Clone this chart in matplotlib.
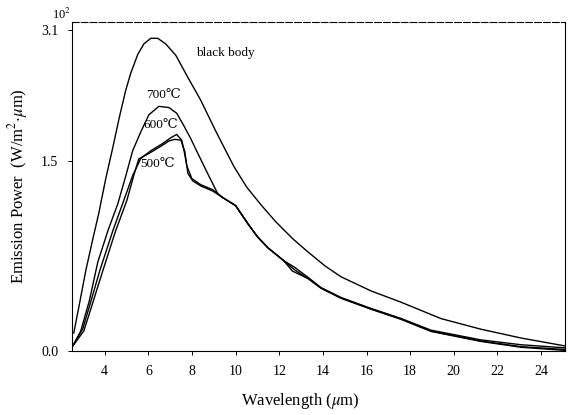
import numpy as np
import matplotlib
matplotlib.use('Agg')
import matplotlib.pyplot as plt
from matplotlib.scale import FuncScale

plt.rcParams['font.family'] = ['Liberation Serif', 'DejaVu Serif']
plt.rcParams['mathtext.fontset'] = 'stix'

# values (wavelength in um, power in units of 10^2 W/m^2.um)
wl_bb = [2.58, 2.85, 3.13, 3.45, 3.72, 4.05, 4.37, 4.66, 4.96, 5.19, 5.51, 5.79, 6.11,
         6.43, 6.80, 7.26, 7.81, 8.40, 9.09, 9.92, 10.51, 11.16, 11.84, 12.62, 13.36,
         14.1, 14.83, 16.2, 17.58, 19.41, 21.25, 23.08, 25.15]
pw_bb = [0.142, 0.38, 0.632, 0.88, 1.08, 1.36, 1.66, 2.02, 2.36, 2.57, 2.80, 2.93, 3.00,
         3.00, 2.93, 2.79, 2.52, 2.24, 1.86, 1.453, 1.29, 1.152, 1.018, 0.884, 0.774,
         0.67, 0.585, 0.474, 0.385, 0.256, 0.172, 0.103, 0.039]

wl_700 = [2.53, 2.90, 3.30, 3.68, 4.15, 4.6, 4.95, 5.28, 5.65, 6.02, 6.48, 6.94, 7.30,
          7.62, 7.94, 8.27, 8.72, 9.18, 9.41, 10.0, 10.56, 11.0, 11.48, 12.21, 12.7,
          13.36, 13.91, 14.83, 16.2, 17.58, 18.95, 21.25, 23.08, 25.15]
pw_700 = [0.039, 0.158, 0.40, 0.70, 0.95, 1.16, 1.37, 1.62, 1.85, 2.06, 2.165, 2.15, 2.08,
          1.93, 1.77, 1.586, 1.397, 1.239, 1.208, 1.145, 1.003, 0.90, 0.813, 0.711, 0.66,
          0.575, 0.50, 0.422, 0.336, 0.257, 0.165, 0.088, 0.050, 0.025]

wl_600 = [2.53, 2.99, 3.38, 3.77, 4.37, 4.87, 5.28, 5.65, 6.11, 6.66, 7.03, 7.30, 7.53,
          7.65, 7.76, 7.99, 8.40, 8.95, 9.41, 10.0, 10.56, 11.0, 11.48, 12.21, 12.6,
          13.36, 13.91, 14.83, 16.2, 17.58, 18.95, 21.25, 23.08, 25.15]
pw_600 = [0.039, 0.174, 0.40, 0.632, 0.947, 1.184, 1.382, 1.525, 1.62, 1.71, 1.78, 1.82,
          1.75, 1.60, 1.46, 1.358, 1.31, 1.27, 1.208, 1.145, 1.003, 0.90, 0.813, 0.711,
          0.63, 0.568, 0.497, 0.418, 0.332, 0.253, 0.158, 0.079, 0.035, 0.012]

wl_500 = [2.53, 3.04, 3.45, 3.91, 4.50, 5.01, 5.33, 5.56, 6.11, 6.66, 6.94, 7.21, 7.49,
          7.67, 7.81, 8.03, 8.40, 8.95, 9.41, 10.0, 10.56, 11.0, 11.48, 12.21, 12.7,
          13.36, 13.91, 14.83, 16.2, 17.58, 18.95, 21.25, 23.08, 25.15]
pw_500 = [0.039, 0.158, 0.38, 0.632, 0.947, 1.184, 1.382, 1.52, 1.60, 1.69, 1.74, 1.76,
          1.75, 1.61, 1.40, 1.34, 1.30, 1.26, 1.208, 1.145, 1.003, 0.90, 0.813, 0.711,
          0.64, 0.565, 0.495, 0.416, 0.330, 0.250, 0.155, 0.076, 0.030, 0.005]

x_ticks = [4, 6, 8, 10, 12, 14, 16, 18, 20, 22, 24]
y_ticks = [0.0, 1.5, 3.1]
y_tick_labels = ['0.0', '1.5', '3.1']

# the scanned axis is not evenly spaced between its ticks
y_val = [-1.0, 0.0, 1.5, 3.1, 5.0]
y_pos = [-126.7, 0.0, 190.0, 320.0, 474.4]


def forward(y):
    return np.interp(y, y_val, y_pos)


def inverse(p):
    return np.interp(p, y_pos, y_val)


def main():
    fig = plt.figure(figsize=(5.78, 4.15), dpi=100)
    ax = fig.add_axes([0.1246, 0.154, 0.853, 0.793])
    ax.set_yscale(FuncScale(ax.yaxis, (forward, inverse)))

    for wl, pw in [(wl_bb, pw_bb), (wl_700, pw_700), (wl_600, pw_600), (wl_500, pw_500)]:
        ax.plot(wl, pw, color='k', lw=1.0, solid_joinstyle='round')

    ax.text(8.17, 2.82, 'black body', fontsize=9.5, va='center', ha='left')
    ax.text(5.88, 2.30, '700\u2103', fontsize=9.5, va='center', ha='left')
    ax.text(5.79, 1.93, '600\u2103', fontsize=9.5, va='center', ha='left')
    ax.text(5.65, 1.476, '500\u2103', fontsize=9.5, va='center', ha='left')

    ax.set_xlim(2.5, 25.1)
    ax.set_ylim(0, 3.2)
    ax.set_xticks(x_ticks)
    ax.set_yticks(y_ticks)
    ax.set_yticklabels(y_tick_labels)
    ax.minorticks_off()
    ax.tick_params(direction='out', length=3, width=0.7, labelsize=10, pad=7)
    for s in ax.spines.values():
        s.set_linewidth(0.8)
    ax.spines['top'].set_linestyle((0, (6, 2)))

    ax.set_xlabel('Wavelength ($\\mu$m)', fontsize=12, labelpad=4)
    ax.xaxis.set_label_coords(0.462, -0.12)
    ax.set_ylabel('Emission Power  (W/m$^2$$\\cdot\\mu$m)', fontsize=12, labelpad=8)
    fig.text(0.107, 0.965, '10$^2$', fontsize=9, ha='center', va='center')

    fig.savefig('out.png', dpi=100)


if __name__ == '__main__':
    main()
